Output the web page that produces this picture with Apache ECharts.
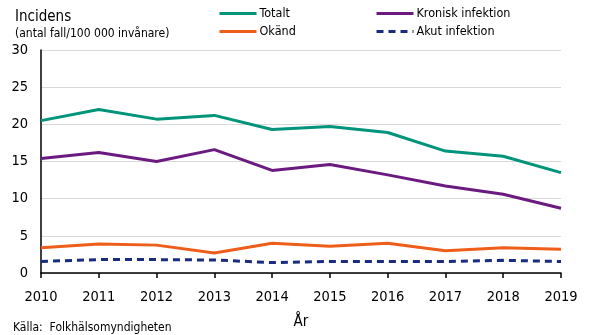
<!DOCTYPE html>
<html>
<head>
<meta charset="utf-8">
<script src="https://cdn.jsdelivr.net/npm/echarts@6/dist/echarts.min.js"></script>
<style>
  html, body { margin: 0; padding: 0; background: #fff; }
  #chart { width: 590px; height: 335px; }
</style>
</head>
<body>
<div id="chart"></div>
<script>
// Years on the x axis
const years = ['2010', '2011', '2012', '2013', '2014', '2015', '2016', '2017', '2018', '2019'];

// Incidence per 100 000 inhabitants
const totalt  = [20.5, 22.0, 20.7, 21.2, 19.3, 19.7, 18.9, 16.4, 15.7, 13.5];
const kronisk = [15.4, 16.2, 15.0, 16.6, 13.8, 14.6, 13.2, 11.7, 10.6, 8.7];
const okand   = [3.4, 3.9, 3.75, 2.7, 4.0, 3.6, 4.0, 3.0, 3.4, 3.2];
const akut    = [1.55, 1.8, 1.8, 1.75, 1.4, 1.55, 1.55, 1.55, 1.7, 1.55];

const FONT = '"DejaVu Sans Condensed", "DejaVu Sans", sans-serif';

const chart = echarts.init(document.getElementById('chart'), null, { renderer: 'canvas' });

function legendAt(name, left, top) {
  return {
    data: [name], left: left, top: top, itemWidth: 37, itemHeight: 10, itemGap: 0,
    padding: 0,
    itemStyle: { opacity: 0 },
    lineStyle: { width: 3 },
    textStyle: { fontFamily: FONT, fontSize: 12.5, color: '#000', padding: [0, 0, 0, -2] }
  };
}

function lineSeries(name, data, color, dashed) {
  return {
    name: name, type: 'line', data: data, symbol: 'none', animation: false,
    lineStyle: { color: color, width: 3, type: dashed ? [7, 5] : 'solid' },
    itemStyle: { color: color }
  };
}

chart.setOption({
  animation: false,
  grid: { left: 41, right: 29, top: 50, bottom: 61 },
  title: [
    { text: 'Incidens', left: 10, top: 5, textStyle: { fontFamily: FONT, fontSize: 15, fontWeight: 'normal', color: '#000' } },
    { text: '(antal fall/100 000 invånare)', left: 10, top: 23, textStyle: { fontFamily: FONT, fontSize: 12, fontWeight: 'normal', color: '#000' } },
    { text: 'Källa:  Folkhälsomyndigheten', left: 8, top: 317, textStyle: { fontFamily: FONT, fontSize: 12, fontWeight: 'normal', color: '#000' } }
  ],
  legend: [
    legendAt('Totalt', 218, 7),
    legendAt('Okänd', 218, 25),
    legendAt('Kronisk infektion', 375, 7),
    legendAt('Akut infektion', 375, 25)
  ],
  xAxis: {
    type: 'category', data: years, boundaryGap: false,
    name: 'År', nameLocation: 'middle', nameGap: 42,
    nameTextStyle: { fontFamily: FONT, fontSize: 15, color: '#000' },
    axisLine: { lineStyle: { color: '#000', width: 1.5 } },
    axisTick: { show: true, length: 5, lineStyle: { color: '#000', width: 1.5 } },
    axisLabel: { fontFamily: FONT, fontSize: 14.5, color: '#000', margin: 17 }
  },
  yAxis: {
    type: 'value', min: 0, max: 30, interval: 5,
    axisLine: { show: true, lineStyle: { color: '#000', width: 1.5 } },
    axisTick: { show: false },
    axisLabel: { fontFamily: FONT, fontSize: 14.5, color: '#000', margin: 13 },
    splitLine: { lineStyle: { color: '#d9d9d9', width: 1 } }
  },
  series: [
    lineSeries('Totalt', totalt, '#00957a', false),
    lineSeries('Kronisk infektion', kronisk, '#6b1a80', false),
    lineSeries('Okänd', okand, '#ee5e1a', false),
    lineSeries('Akut infektion', akut, '#1a2b80', true)
  ]
});
</script>
</body>
</html>
